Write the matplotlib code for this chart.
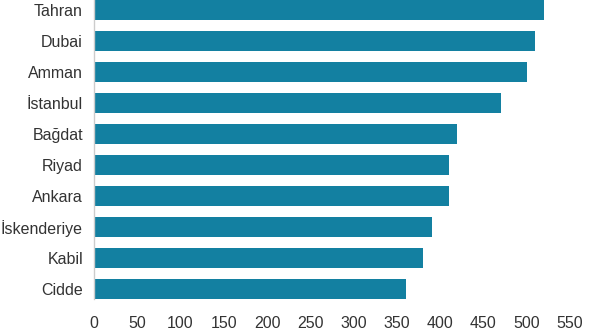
import matplotlib.pyplot as plt

plt.rcParams['font.family'] = ['Liberation Sans', 'DejaVu Sans']

cities = ['Tahran', 'Dubai', 'Amman', 'İstanbul', 'Bağdat',
          'Riyad', 'Ankara', 'İskenderiye', 'Kabil', 'Cidde']
values = [520, 510, 500, 470, 420, 410, 410, 390, 380, 360]
xticks = [0, 50, 100, 150, 200, 250, 300, 350, 400, 450, 500, 550]

W, H = 592, 332
fig = plt.figure(figsize=(W / 100, H / 100), dpi=100)
# axes spans x 94..570 px, y 0..299 px
ax = fig.add_axes([94 / W, 1 - 299 / H, 476 / W, 299 / H])

bh = 0.645
ax.barh(range(len(cities)), values, height=bh, color='#1380A1')
ax.set_ylim(len(cities) - 1 + bh / 2, -bh / 2)
ax.set_xlim(0, 550)

ax.set_yticks(range(len(cities)))
ax.set_yticklabels(cities)
ax.set_xticks(xticks)

for s in ['top', 'right', 'bottom']:
    ax.spines[s].set_visible(False)
ax.spines['left'].set_color('#cccccc')
ax.spines['left'].set_linewidth(1)

ax.tick_params(axis='y', length=0, pad=8, labelsize=11.5, labelcolor='#333333')
ax.tick_params(axis='x', length=0, pad=12, labelsize=11.5, labelcolor='#333333')

fig.savefig('out.png', dpi=100)
